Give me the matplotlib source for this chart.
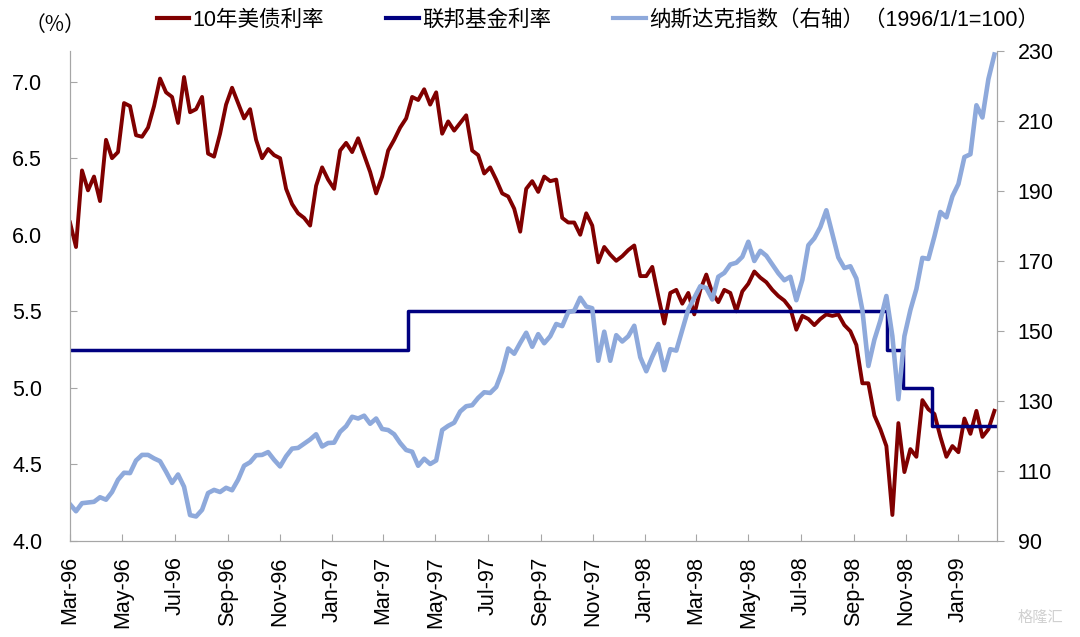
import matplotlib
matplotlib.use("Agg")
import matplotlib.pyplot as plt
import matplotlib.dates as mdates
from matplotlib.lines import Line2D
import pandas as pd

plt.rcParams['font.family'] = ['Liberation Sans', 'Noto Sans CJK SC', 'DejaVu Sans']

# weekly readings, starting 1996-03-01
start_date = '1996-03-01'

ust10y = [
    6.08, 5.92, 6.42, 6.29, 6.38, 6.22, 6.62, 6.50, 6.54, 6.86,
    6.84, 6.65, 6.64, 6.70, 6.84, 7.02, 6.93, 6.90, 6.73, 7.03,
    6.80, 6.82, 6.90, 6.53, 6.51, 6.66, 6.85, 6.96, 6.86, 6.76,
    6.82, 6.62, 6.50, 6.56, 6.52, 6.50, 6.30, 6.20, 6.14, 6.11,
    6.06, 6.32, 6.44, 6.36, 6.30, 6.55, 6.60, 6.54, 6.63, 6.52,
    6.41, 6.27, 6.38, 6.55, 6.62, 6.70, 6.76, 6.90, 6.88, 6.95,
    6.85, 6.93, 6.66, 6.74, 6.68, 6.73, 6.78, 6.55, 6.52, 6.40,
    6.44, 6.36, 6.27, 6.25, 6.17, 6.02, 6.30, 6.35, 6.28, 6.38,
    6.35, 6.36, 6.11, 6.08, 6.08, 6.00, 6.14, 6.06, 5.82, 5.92,
    5.87, 5.83, 5.86, 5.90, 5.93, 5.73, 5.73, 5.79, 5.60, 5.42,
    5.62, 5.64, 5.55, 5.62, 5.48, 5.64, 5.74, 5.62, 5.56, 5.64,
    5.62, 5.50, 5.63, 5.68, 5.76, 5.72, 5.69, 5.64, 5.60, 5.57,
    5.52, 5.38, 5.47, 5.45, 5.41, 5.45, 5.48, 5.47, 5.48, 5.41,
    5.37, 5.28, 5.03, 5.03, 4.82, 4.73, 4.62, 4.17, 4.77, 4.45,
    4.60, 4.55, 4.92, 4.86, 4.83, 4.68, 4.55, 4.62, 4.58, 4.80,
    4.70, 4.85, 4.68, 4.73, 4.85,
]

nasdaq = [
    100.5, 98.5, 100.8, 101.0, 101.2, 102.5, 101.8, 104.0, 107.5, 109.5,
    109.4, 113.0, 114.6, 114.6, 113.6, 112.8, 109.8, 106.6, 109.0, 105.5,
    97.4, 97.0, 98.9, 103.7, 104.6, 104.0, 105.2, 104.5, 107.5, 111.5,
    112.5, 114.5, 114.6, 115.4, 113.2, 111.3, 114.2, 116.4, 116.6, 117.8,
    119.0, 120.5, 117.0, 118.0, 118.1, 121.2, 122.8, 125.5, 125.0, 125.8,
    123.5, 125.0, 122.0, 121.7, 120.5, 118.0, 116.0, 115.5, 111.5, 113.5,
    112.0, 113.0, 121.7, 122.9, 123.8, 127.0, 128.5, 128.8, 130.9, 132.5,
    132.3, 134.0, 138.5, 145.0, 143.5, 146.6, 149.5, 145.5, 149.1, 146.5,
    148.5, 152.0, 151.4, 155.4, 155.8, 159.5, 157.0, 156.5, 141.5, 149.8,
    141.5, 148.8, 147.0, 148.5, 151.5, 142.5, 138.5, 142.6, 146.3, 138.8,
    144.8, 144.4, 150.3, 156.2, 159.5, 162.8, 162.3, 159.0, 165.5, 166.6,
    169.0, 169.5, 171.2, 175.5, 170.0, 172.9, 171.5, 169.0, 166.5, 164.5,
    165.5, 158.8, 164.6, 174.5, 176.5, 179.7, 184.5, 177.7, 171.0, 168.0,
    168.5, 165.0, 156.0, 140.0, 147.5, 153.0, 160.0, 148.5, 130.5, 148.5,
    156.0, 162.0, 170.9, 170.6, 177.0, 184.0, 182.5, 188.5, 192.0, 199.7,
    200.5, 214.5, 211.0, 222.0, 229.0,
]

# fed funds steps (as plotted in the chart)
fed_dates = ['1996-03-01', '1997-03-30', '1998-10-10', '1998-10-28', '1998-12-01', '1999-02-15']
fed_rate = [5.25, 5.50, 5.25, 5.00, 4.75, 4.75]

labels = ['10年美债利率', '联邦基金利率', '纳斯达克指数（右轴）（1996/1/1=100）']
colors = ['#800000', '#000080', '#8EA9DB']

weeks = pd.date_range(start_date, periods=len(ust10y), freq='7D')
fed_x = pd.to_datetime(fed_dates)

fig = plt.figure(figsize=(10.8, 6.37), dpi=100)
ax = fig.add_axes([70 / 1080, 1 - 541 / 637, 927 / 1080, 490 / 637])
ax2 = ax.twinx()

ax.plot(weeks, ust10y, color=colors[0], lw=2.8, solid_joinstyle='round')
ax.plot(fed_x, fed_rate, color=colors[1], lw=2.5, drawstyle='steps-post')
ax2.plot(weeks, nasdaq, color=colors[2], lw=3.3, solid_joinstyle='round')

ax.set_ylim(4.0, 7.2)
ax.set_yticks([4.0, 4.5, 5.0, 5.5, 6.0, 6.5, 7.0])
ax.yaxis.set_major_formatter(matplotlib.ticker.FormatStrFormatter('%.1f'))
ax2.set_ylim(90, 230)
ax2.set_yticks(range(90, 231, 20))
ax.set_xlim(pd.Timestamp('1996-03-01'), pd.Timestamp('1999-02-15'))

ax.xaxis.set_major_locator(mdates.MonthLocator(bymonth=[1, 3, 5, 7, 9, 11]))
ax.xaxis.set_major_formatter(mdates.DateFormatter('%b-%y'))
for lab in ax.get_xticklabels():
    lab.set_rotation(90)

spine_c = '#A6A6A6'
for a in (ax, ax2):
    for s in a.spines.values():
        s.set_color(spine_c)
    a.spines['top'].set_visible(False)

ax.tick_params(axis='x', direction='in', length=5, color=spine_c, labelsize=15.5, pad=11)
ax.tick_params(axis='y', direction='in', length=5, color=spine_c, labelsize=15.5, pad=20)
ax2.tick_params(axis='y', direction='out', length=5, color=spine_c, labelsize=15.5, pad=10)

handles = [Line2D([], [], color=c, lw=3) for c in colors]
fig.legend(handles, labels, loc='upper center', bbox_to_anchor=(598 / 1080, 1.015),
           ncol=3, frameon=False, fontsize=15.5, handlelength=1.5, handletextpad=0.15,
           columnspacing=2.9)

fig.text(55 / 1080, 1 - 25 / 637, '（%）', ha='center', va='center', fontsize=15,
         family=['Noto Sans CJK SC', 'DejaVu Sans'])
fig.text(1040 / 1080, 1 - 618 / 637, '格隆汇', ha='center', va='center',
         fontsize=11, color='#D0D0D0')

fig.savefig('out.png', dpi=100, facecolor='white')
